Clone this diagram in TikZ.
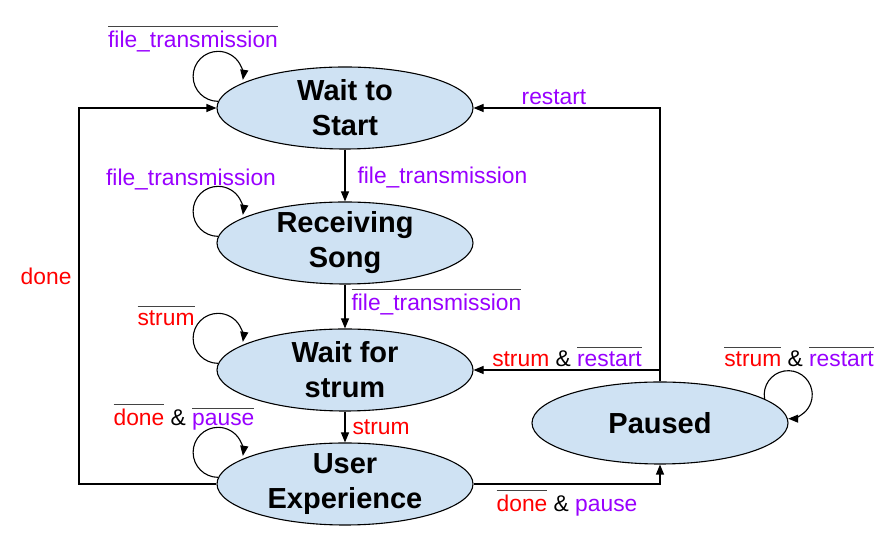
\documentclass[tikz,border=0pt]{standalone}
\usepackage{fontspec}
\setmainfont{Liberation Sans}
\usetikzlibrary{arrows.meta,shapes.geometric}
\definecolor{stateblue}{HTML}{CFE2F3}
\definecolor{sigpurple}{HTML}{9900FF}
\definecolor{sigred}{HTML}{FF0000}
\definecolor{bargray}{HTML}{434343}
\newcommand{\negsig}[2]{\leavevmode\vbox{\color{bargray}\hrule height 0.9pt\kern 4.5pt\hbox{\color{#1}#2}}}

\begin{document}
\begin{tikzpicture}[x=1pt,y=1pt,line width=1.1pt,
    state/.style={shape=ellipse,draw,fill=stateblue,minimum width=256pt,minimum height=82pt,
      inner xsep=0pt,inner ysep=-5pt,align=center,font=\fontsize{29}{35}\selectfont\bfseries},
    lbl/.style={font=\fontsize{22.8}{26}\selectfont,inner sep=0pt,anchor=base},
    >={Triangle[length=10pt,width=8pt]}]
          \fill[white] (0,0) rectangle (878,545);
          \useasboundingbox (0,0) rectangle (878,545);
          \node[state] (ws) at (345,437) {Wait to\\Start};
          \node[state] (rs) at (345,302) {Receiving\\Song};
          \node[state] (wf) at (345,175) {Wait for\\strum};
          \node[state] (ue) at (345,61) {User\\Experience};
          \node[state] (pa) at (660,122) {Paused};
          \coordinate (lft) at (79,0);
          \draw[->] (ws.177) arc[start angle=270,end angle=-8,radius=25];
          \draw[->] (rs.177) arc[start angle=270,end angle=-8,radius=25];
          \draw[->] (wf.177) arc[start angle=270,end angle=-8,radius=25];
          \draw[->] (ue.177) arc[start angle=270,end angle=-8,radius=25];
          \draw[->] (pa.13) arc[start angle=190,end angle=-90,radius=24];
          \draw[->] (ws) -- (rs);
          \draw[->] (rs) -- (wf);
          \draw[->] (wf) -- (ue);
          \draw[->] (ue.west) -- (ue.west -| lft) |- (ws.west);
          \draw[->] (pa.north) |- (ws.east);
          \draw[->] (pa.north) |- (wf.east);
          \draw[->] (ue.east) -| (pa.south);
          \node[lbl] (t1) at (193,497) {\negsig{sigpurple}{file\_transmission}};
          \node[lbl,text=sigpurple] (t2) at (191,359) {file\_transmission};
          \node[lbl] (t3) at (166,219) {\negsig{sigred}{strum}};
          \node[lbl] (t4) at (184,119) {\negsig{sigred}{done} \& \negsig{sigpurple}{pause}};
          \node[lbl,anchor=base west,text=sigpurple] (t5) at (357,361) {file\_transmission};
          \node[lbl,anchor=base west] (t6) at (351,234) {\negsig{sigpurple}{file\_transmission}};
          \node[lbl,anchor=base west,text=sigred] (t7) at (352,110) {strum};
          \node[lbl,anchor=base east,text=sigred] (t8) at (72,260) {done};
          \node[lbl,text=sigpurple] (t9) at (554,440) {restart};
          \node[lbl] (t10) at (567,178) {\textcolor{sigred}{strum} \& \negsig{sigpurple}{restart}};
          \node[lbl] (t11) at (799,178) {\negsig{sigred}{strum} \& \negsig{sigpurple}{restart}};
          \node[lbl] (t12) at (567,33) {\negsig{sigred}{done} \& \textcolor{sigpurple}{pause}};
        \end{tikzpicture}
\end{document}
